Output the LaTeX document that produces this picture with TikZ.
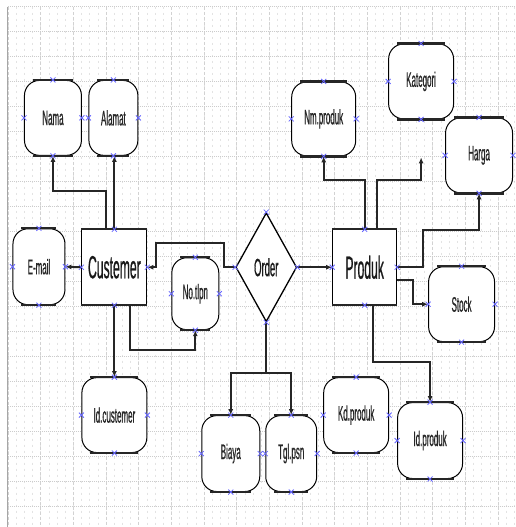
\documentclass[tikz,border=0pt]{standalone}
\usepackage{fontspec}
\newfontfamily\lblfont[FakeStretch=0.38, FakeBold=0.6]{Liberation Sans}
\usetikzlibrary{arrows.meta, positioning, shapes.geometric}

\begin{document}
\begin{tikzpicture}[
		x=1pt, y=-1pt,
		entity/.style={draw, fill=white, rectangle, line width=1pt, minimum width=65pt, minimum height=75pt, inner sep=0pt, text=black!90, font=\lblfont\fontsize{32}{32}\selectfont},
		attrib/.style={draw, fill=white, rectangle, rounded corners=15pt, line width=1pt, minimum height=75pt, inner sep=0pt, text=black!85, font=\lblfont\fontsize{21}{21}\selectfont},
		relation/.style={draw, fill=white, diamond, line width=1.3pt, minimum width=61pt, minimum height=109pt, inner sep=0pt, text=black!90, font=\lblfont\fontsize{25}{25}\selectfont},
		edge/.style={line width=2.4pt, black!85},
		arrow/.style={-{Latex[length=6pt,width=5pt]}, line width=2pt, black!85},
		link/.style={line width=2pt, black!85},
		cross/.style={draw=blue!60!white, line width=0.8pt}
		]

		% Background
		\fill[white] (0,0) rectangle (516,527);
		\begin{scope}
			\clip (8,7) rectangle (516,527);
			\foreach \i in {0,...,63}
				\draw[gray!22, dash pattern=on 2pt off 4pt, line width=0.6pt] (8+8.175*\i,7) -- (8+8.175*\i,527);
			\foreach \i in {0,...,15}
				\draw[gray!35, densely dashed, line width=0.7pt] (8+32.7*\i,7) -- (8+32.7*\i,527);
			\foreach \i in {0,...,20}
				\draw[gray!40, densely dotted, line width=1pt] (8,6.7+25*\i) -- (516,6.7+25*\i);
		\end{scope}
		\draw[gray!70, line width=1pt] (8,7) -- (8,527);

		% Nodes
		\node[attrib, minimum width=57pt] (nama) at (53,118) {Nama};
		\node[attrib, minimum width=49pt] (alamat) at (113.5,118) {Alamat};
		\node[attrib, minimum width=52pt, minimum height=76pt] (email) at (39,267) {E-mail};
		\node[entity] (custemer) at (114.5,267.5) {Custemer};
		\node[attrib, minimum width=47pt, minimum height=72pt] (notlpn) at (195.5,294) {No.tlpn};
		\node[relation] (order) at (266.5,267.5) {Order};
		\node[entity, minimum width=64pt] (produk) at (365,267.5) {Produk};
		\node[attrib, minimum width=64pt, minimum height=74pt] (nmproduk) at (324,119) {Nm.produk};
		\node[attrib, minimum width=65pt] (kategori) at (421.5,81.5) {Kategori};
		\node[attrib, minimum width=67pt] (harga) at (479.5,155.5) {Harga};
		\node[attrib, minimum width=66pt] (stock) at (462,304.5) {Stock};
		\node[attrib, minimum width=65pt] (idcustemer) at (114.5,415.5) {Id.custemer};
		\node[attrib, minimum width=58pt, minimum height=76pt] (biaya) at (231,454) {Biaya};
		\node[attrib, minimum width=51pt, minimum height=76pt] (tglpsn) at (291.5,454) {Tgl.psn};
		\node[attrib, minimum width=65pt] (kdproduk) at (356.5,415.5) {Kd.produk};
		\node[attrib, minimum width=65pt, minimum height=76pt] (idproduk) at (430.5,441) {Id.produk};
		\coordinate (katend) at ([yshift=-38pt]kategori.south);

		% Thick top and bottom edges
		\foreach \n in {nama,alamat,email,notlpn,nmproduk,kategori,harga,stock,idcustemer,biaya,tglpsn,kdproduk,idproduk}
			\draw[edge] ([xshift=9pt]\n.north west) -- ([xshift=-9pt]\n.north east)
				([xshift=9pt]\n.south west) -- ([xshift=-9pt]\n.south east);
		\foreach \n in {custemer,produk}
			\draw[edge] (\n.north west) -- (\n.north east) (\n.south west) -- (\n.south east);

		% Arrows
		\draw[arrow] ([xshift=-8.5pt]custemer.north) -- ++(0,-38) -| (nama.south);
		\draw[arrow] (custemer.north) -- (custemer.north |- alamat.south);
		\draw[arrow] (custemer.west) -- (email.east);
		\draw[arrow] (order.west) -- ++(-11,0) -- ++(0,-24.5) -- ++(-68,0) -- ++(0,24.5) -- (custemer.east);
		\draw[arrow] ([xshift=15.5pt]custemer.south) -- ++(0,45) -| (notlpn.south);
		\draw[arrow] (custemer.south) -- (idcustemer.north);
		\draw[arrow] (order.east) -- (produk.west);
		\draw[link] (order.south) -- ++(0,51) coordinate (split);
		\draw[arrow] (split) -| (biaya.north);
		\draw[arrow] (split) -| (tglpsn.north);
		\draw[arrow] (produk.north) -- ++(0,-49) -| (nmproduk.south);
		\draw[arrow] ([xshift=12pt]produk.north) -- ++(0,-49) -| (katend);
		\draw[arrow] (produk.east) -- ++(26,0) -- ++(0,-37.5) -| (harga.south);
		\draw[arrow] ([yshift=-12.5pt]produk.east) -- ++(16,0) |- (stock.west);
		\draw[arrow] ([xshift=8pt]produk.south) -- ++(0,57) -| (idproduk.north);

		% Connection points
		\foreach \n in {nama,alamat,email,custemer,notlpn,order,produk,nmproduk,kategori,harga,stock,idcustemer,biaya,tglpsn,kdproduk,idproduk}
			\foreach \a in {north,south,east,west}
				\draw[cross] (\n.\a) +(-2.5,-2.5) -- +(2.5,2.5) +(-2.5,2.5) -- +(2.5,-2.5);

	\end{tikzpicture}
\end{document}
